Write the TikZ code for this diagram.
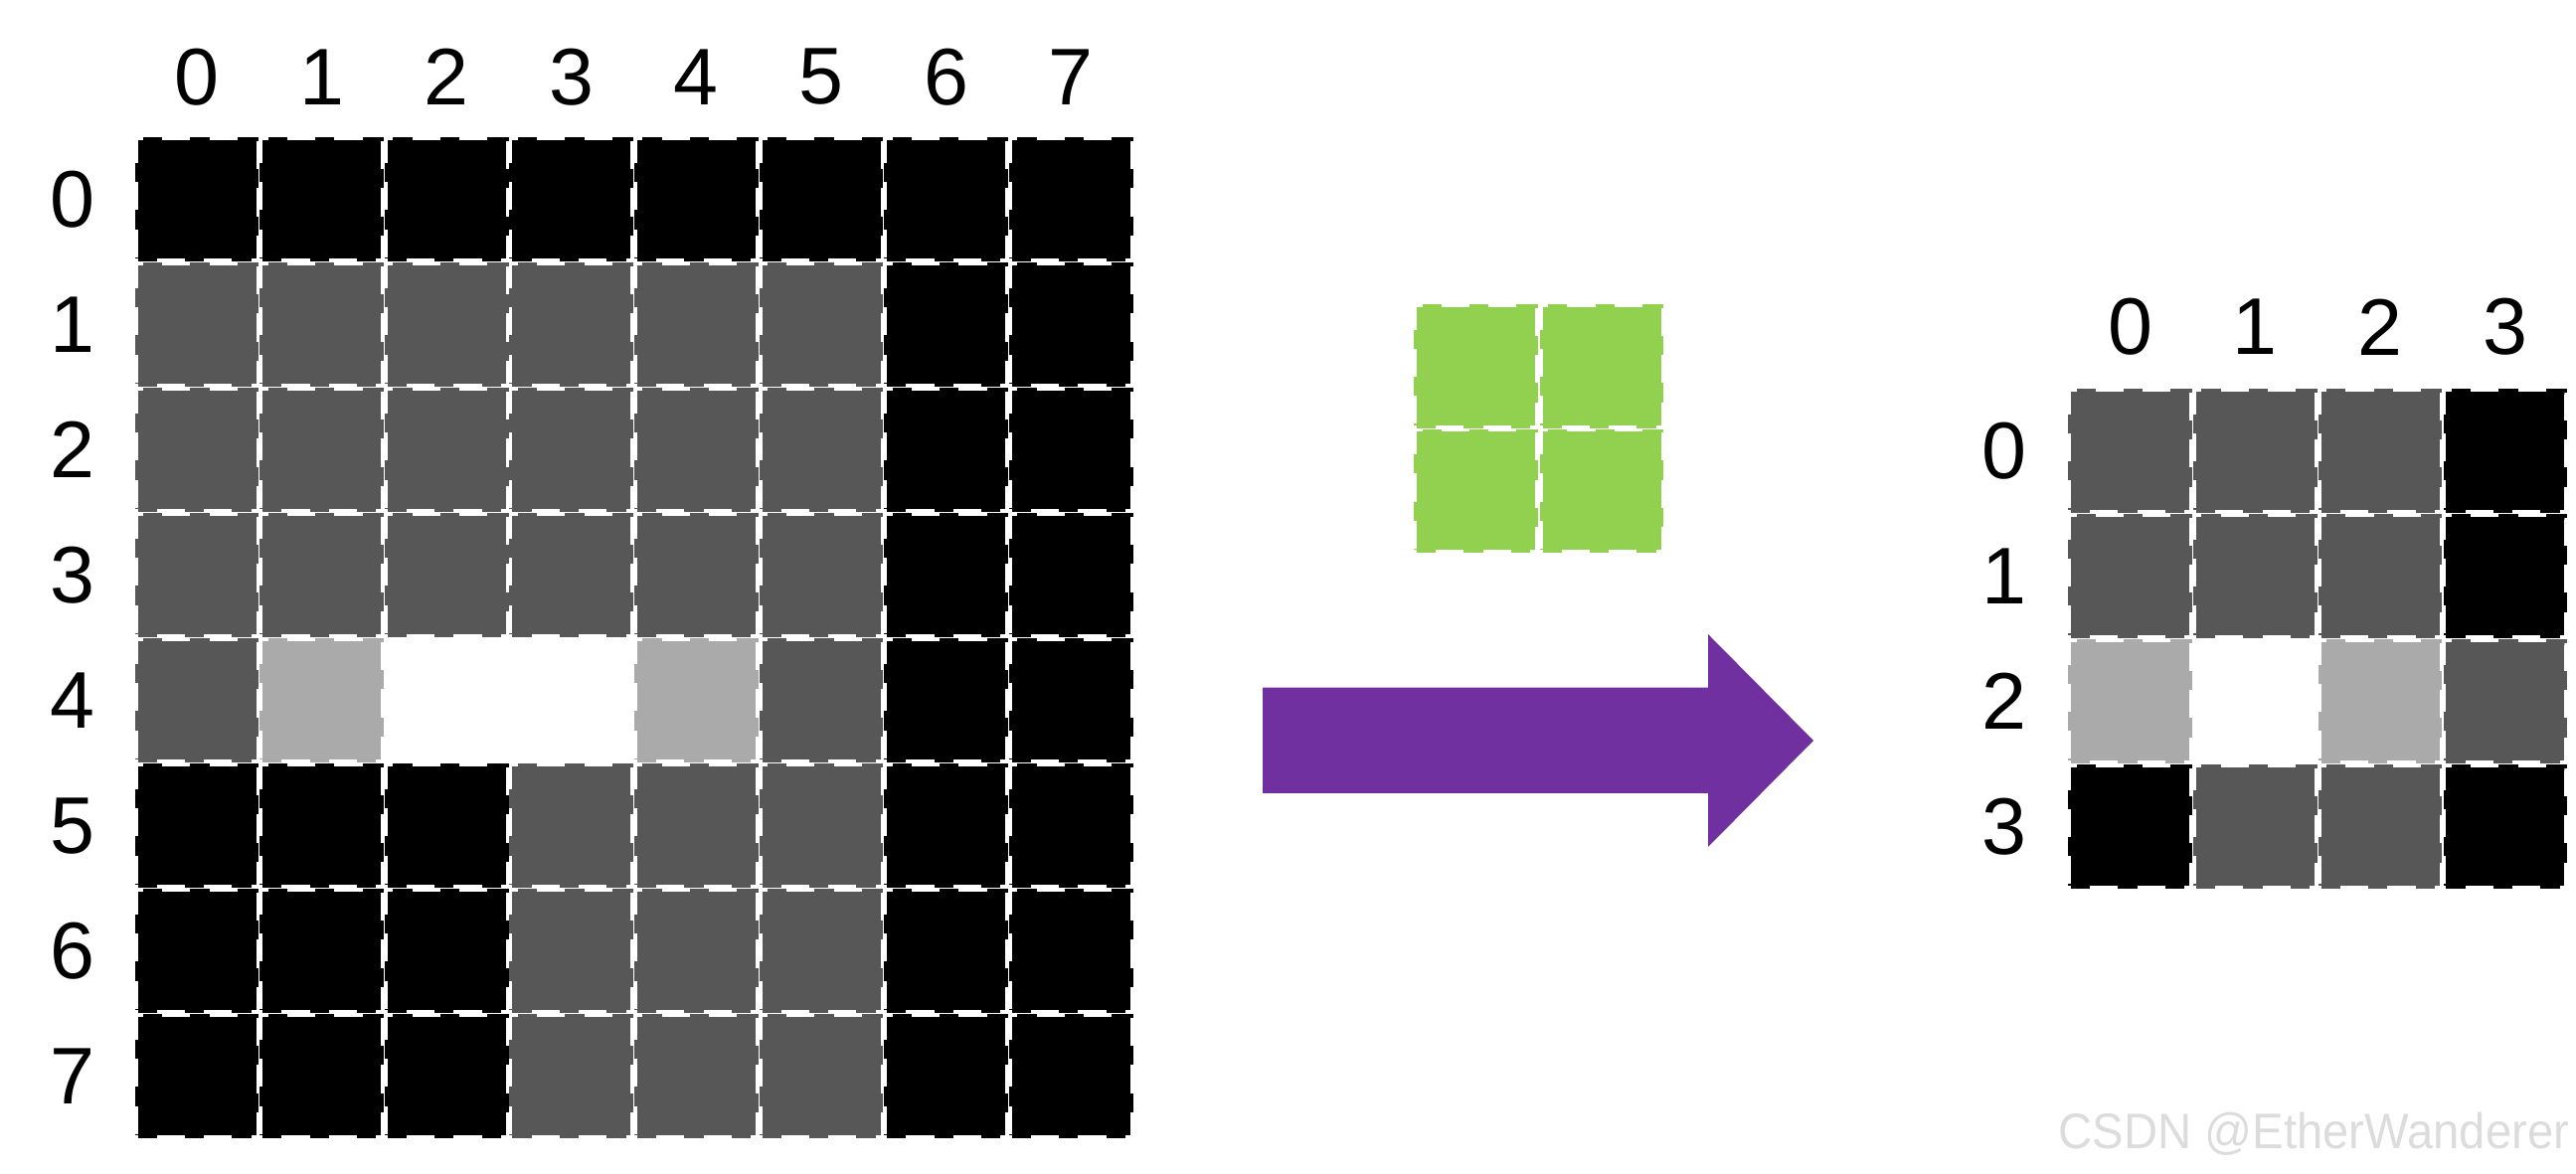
\documentclass[tikz,border=0pt]{standalone}
\usepackage{fontspec}
\setmainfont{Liberation Sans}
\usepackage{tikz}
\usetikzlibrary{positioning}
\definecolor{cK}{HTML}{000000}
\definecolor{cD}{HTML}{575757}
\definecolor{cL}{HTML}{AAAAAA}
\definecolor{cW}{HTML}{FFFFFF}
\definecolor{kgreen}{HTML}{92D050}
\definecolor{apurple}{HTML}{7030A0}
\definecolor{wmark}{HTML}{DCDCDC}
\tikzset{cell/.style={rectangle,minimum size=1.19cm,inner sep=0pt,line width=1.6pt,dash pattern=on 5.5pt off 8pt}}
\tikzset{idx/.style={font=\fontsize{23}{23}\selectfont,inner sep=0pt}}

\begin{document}
\begin{tikzpicture}
    \useasboundingbox (0,0) rectangle (25.91,11.81);
    % input image 8x8
    \foreach \row [count=\r from 0] in {
        {K,K,K,K,K,K,K,K},
        {D,D,D,D,D,D,K,K},
        {D,D,D,D,D,D,K,K},
        {D,D,D,D,D,D,K,K},
        {D,L,W,W,L,D,K,K},
        {K,K,K,D,D,D,K,K},
        {K,K,K,D,D,D,K,K},
        {K,K,K,D,D,D,K,K}} {
        \foreach \c [count=\col from 0] in \row {
            \node[cell,fill=c\c,draw=c\c] (in-\r-\col) at ({1.98+1.256*\col},{9.803-1.26*\r}) {};
        }
    }
    \foreach \i in {0,...,7} {
        \node[idx] (incol-\i) at ({1.98+1.256*\i},11.035) {\i};
        \node[idx] (inrow-\i) at (0.725,{9.803-1.26*\i}) {\i};
    }
    % kernel 2x2
    \foreach \r in {0,1} {
        \foreach \col in {0,1} {
            \node[cell,fill=kgreen,draw=kgreen] (k-\r-\col) at ({14.845+1.265*\col},{8.125-1.255*\r}) {};
        }
    }
    % big arrow
    \fill[apurple] (12.70,4.893) -- (17.18,4.893) -- (17.18,5.43) -- (18.24,4.36)
        -- (17.18,3.29) -- (17.18,3.83) -- (12.70,3.83) -- cycle;
    % output 4x4
    \foreach \row [count=\r from 0] in {
        {D,D,D,K},
        {D,D,D,K},
        {L,W,L,D},
        {K,D,D,K}} {
        \foreach \c [count=\col from 0] in \row {
            \node[cell,fill=c\c,draw=c\c] (out-\r-\col) at ({21.425+1.258*\col},{7.275-1.26*\r}) {};
        }
    }
    \foreach \i in {0,...,3} {
        \node[idx] (outcol-\i) at ({21.425+1.258*\i},8.52) {\i};
        \node[idx] (outrow-\i) at (20.155,{7.275-1.26*\i}) {\i};
    }
    \node[anchor=base west,inner sep=0pt,text=wmark,font=\fontsize{14.3}{14.3}\selectfont,xscale=0.94] (mark) at (20.70,0.25) {CSDN @EtherWanderer};
\end{tikzpicture}
\end{document}
